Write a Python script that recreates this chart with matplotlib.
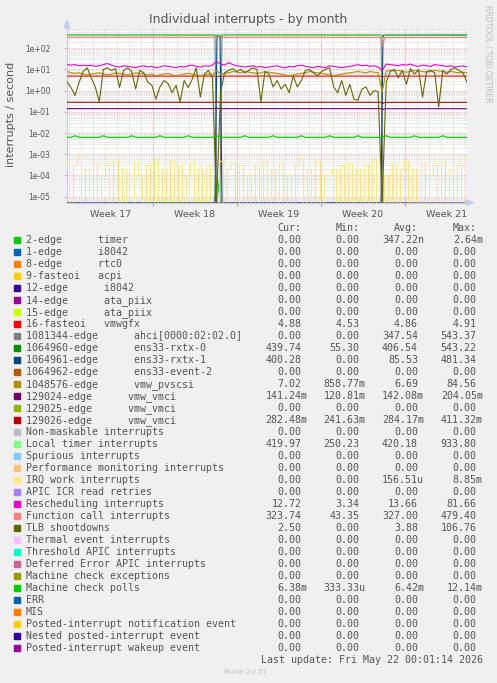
import numpy as np
import matplotlib
matplotlib.use("Agg")
import matplotlib.pyplot as plt
from matplotlib.patches import Polygon, Rectangle
from matplotlib.ticker import NullLocator

W, H, DPI = 497, 683, 100
BACK = "#F0F0F0"
FONT = "#555555"
AXIS = "#C4CCF4"
GRID = "#D4D4D4"
MGRID = "#F2A6A6"
MONO = "DejaVu Sans Mono"

Y_MIN, Y_MAX = 5.2e-6, 933.8

# x axis is hours from the left edge of the graph (2 h per pixel, 400 px)
hours = np.linspace(0, 800, 100)
# breakpoints for the flat series: start, reboot 1, reboot 2, end
event_hours = [0, 296, 300, 306, 310, 628, 632, 636, 800]
day_lines = np.arange(4, 800, 24)
week_starts = [172, 340, 508, 676]
week_mid = [88, 256, 424, 592, 760]
week_labels = ["Week 17", "Week 18", "Week 19", "Week 20", "Week 21"]

# ---- series values (interrupts / second) ----
tlb = [2.6, 1.4, 0.6, 2.5, 8, 12, 4, 1.5, 0.3, 10,
       12, 9, 11, 1.4, 9, 12, 8, 1.2, 9, 7,
       2.5, 1.8, 0.4, 1.5, 3, 2.2, 0.8, 1.8, 0.3, 3,
       1.4, 3.5, 12, 0.5, 6, 9, 4, 0, 0.8, 7,
       9, 11, 8, 10, 7, 9, 12, 10, 0.3, 8,
       6, 1.5, 3, 1.2, 2, 0.8, 5, 1.5, 3, 9,
       10, 7, 5, 8, 10, 12, 1.5, 0.8, 3, 0.6,
       2, 0.4, 0.35, 1.2, 1.5, 0.6, 1, 0.9, 0, 2.5,
       8, 10, 4, 9, 2, 11, 6, 10, 0.5, 8,
       9, 7, 0.17, 9, 6, 10, 12, 9, 7, 2.5]

resched = [17, 16, 17, 15, 16, 15, 16, 14, 15, 17,
           19, 16, 14, 13, 15, 14, 13, 12, 14, 15,
           13, 14, 12, 13, 15, 14, 13, 12, 14, 13,
           15, 16, 14, 13, 15, 14, 16, 24, 18, 16,
           21, 17, 15, 14, 13, 14, 15, 13, 14, 12,
           13, 14, 15, 13, 12, 14, 13, 15, 16, 14,
           13, 12, 14, 13, 12, 15, 14, 13, 12, 13,
           14, 15, 17, 15, 16, 14, 15, 13, 9, 18,
           17, 16, 15, 17, 16, 18, 15, 14, 16, 15,
           14, 17, 16, 15, 14, 15, 13, 14, 15, 13]

pvscsi = [8, 7, 6.5, 7, 6, 5.5, 6, 6.5, 7, 6,
          5.5, 6, 7, 6.5, 6, 5.5, 6, 7, 6.5, 6,
          5.5, 6, 5, 5.5, 6, 6.5, 5.5, 5, 5.5, 6,
          6.5, 6, 5.5, 5, 5.5, 6, 5.5, 9, 6, 6.5,
          7, 8, 7.5, 7, 8, 7.5, 7, 6.5, 7, 8,
          7.5, 7, 6.5, 6, 5.5, 5, 5.5, 6, 6.5, 7,
          8, 7.5, 7, 6.5, 6, 5.5, 5, 5.5, 6, 6.5,
          7, 7.5, 8, 7.5, 7, 8, 7.5, 7, 0.86, 8,
          9, 8.5, 9, 8, 7.5, 8, 9, 8.5, 8, 7.5,
          8, 9, 8.5, 8, 7.5, 8, 7.5, 7, 7.5, 7]

irq_work = [5e-4, 0, 3e-4, 8e-4, 0, 2e-4, 0, 4e-4, 0, 1e-4,
            3e-4, 0, 5e-4, 0, 2e-4, 0, 0, 4e-4, 1e-4, 0,
            3e-4, 0, 6e-4, 0, 2e-4, 0, 5e-4, 0, 3e-4, 0,
            1e-4, 4e-4, 0, 2e-4, 0, 3e-4, 0, 0, 5e-4, 0,
            2e-4, 4e-4, 0, 3e-4, 0, 1e-4, 0, 3e-4, 0, 5e-4,
            0, 2e-4, 0, 4e-4, 0, 1e-4, 0, 3e-4, 7e-4, 0,
            2e-4, 0, 5e-4, 0, 1e-4, 1e-4, 2e-4, 0, 3e-4, 0,
            4e-4, 0, 2e-4, 0, 3e-4, 0, 6e-4, 0, 0, 1e-4,
            0, 3e-4, 0, 2e-4, 5e-4, 0, 2e-4, 0, 4e-4, 0,
            1e-4, 3e-4, 0, 5e-4, 0, 2e-4, 0, 3e-4, 0, 6e-4]

mc_polls = [.0063, .0063, .0075, .0063, .0063, .0063, .0063, .0063, .0063, .0075,
            .0063, .0063, .0063, .0063, .0063, .0063, .0075, .0063, .0063, .0063,
            .0063, .0063, .0063, .0075, .0063, .0063, .0063, .0063, .0063, .0063,
            .0075, .0063, .0063, .0063, .0063, .0063, .0063, .0075, .0063, .0063,
            .0063, .0063, .0063, .0063, .0075, .0063, .0063, .0063, .0063, .0063,
            .0063, .0075, .0063, .0063, .0063, .0063, .0063, .0063, .0075, .0063,
            .0063, .0063, .0063, .0063, .0063, .0075, .0063, .0063, .0063, .0063,
            .0063, .0063, .0075, .0063, .0063, .0063, .0063, .0063, .0063, .0075,
            .0063, .0063, .0063, .0063, .0063, .0063, .0075, .0063, .0063, .0063,
            .0063, .0063, .0063, .0075, .0063, .0063, .0063, .0063, .0063, .0063]

# flat series on event_hours
timer = [0, 0, 1.4e-4, 0, 0, 0, 0, 0, 0]
vmwgfx = [4.87, 4.86, 4.6, 4.86, 4.87, 4.86, 4.53, 4.86, 4.88]
ahci = [432, 430, 0, 0, 436, 431, 0, 0, 0]
rxtx0 = [425, 410, 380, 300, 420, 405, 300, 430, 440]
rxtx1 = [0, 0, 420, 420, 0, 0, 410, 405, 400]
vmci0 = [0.142, 0.142, 0.15, 0.14, 0.142, 0.142, 0.13, 0.141, 0.141]
vmci2 = [0.284, 0.284, 0.3, 0.28, 0.284, 0.284, 0.25, 0.282, 0.282]
local_timer = [425, 420, 430, 420, 420, 418, 250, 420, 420]
func_call = [330, 327, 340, 320, 328, 326, 150, 320, 324]
zero = [0, 0, 0, 0, 0, 0, 0, 0, 0]

# ---- legend ----
names = [
    "2-edge      timer", "1-edge      i8042", "8-edge      rtc0", "9-fasteoi   acpi",
    "12-edge      i8042", "14-edge      ata_piix", "15-edge      ata_piix",
    "16-fasteoi   vmwgfx", "1081344-edge      ahci[0000:02:02.0]",
    "1064960-edge      ens33-rxtx-0", "1064961-edge      ens33-rxtx-1",
    "1064962-edge      ens33-event-2", "1048576-edge      vmw_pvscsi",
    "129024-edge      vmw_vmci", "129025-edge      vmw_vmci", "129026-edge      vmw_vmci",
    "Non-maskable interrupts", "Local timer interrupts", "Spurious interrupts",
    "Performance monitoring interrupts", "IRQ work interrupts", "APIC ICR read retries",
    "Rescheduling interrupts", "Function call interrupts", "TLB shootdowns",
    "Thermal event interrupts", "Threshold APIC interrupts",
    "Deferred Error APIC interrupts", "Machine check exceptions", "Machine check polls",
    "ERR", "MIS", "Posted-interrupt notification event", "Nested posted-interrupt event",
    "Posted-interrupt wakeup event",
]
colors = [
    "#00CC00", "#0066B3", "#FF8000", "#FFCC00", "#330099", "#990099", "#CCFF00",
    "#FF0000", "#808080", "#008F00", "#00487D", "#B35A00", "#B38F00", "#6B006B",
    "#8FB300", "#B30000", "#BEBEBE", "#80FF80", "#80C9FF", "#FFC080", "#FFE680",
    "#AA80FF", "#EE00CC", "#FF8080", "#666600", "#FFBFFF", "#00FFCC", "#CC6699",
    "#999900", "#00CC00", "#0066B3", "#FF8000", "#FFCC00", "#330099", "#990099",
]
cur = ["0.00", "0.00", "0.00", "0.00", "0.00", "0.00", "0.00", "4.88", "0.00",
       "439.74", "400.28", "0.00", "7.02", "141.24m", "0.00", "282.48m", "0.00",
       "419.97", "0.00", "0.00", "0.00", "0.00", "12.72", "323.74", "2.50", "0.00",
       "0.00", "0.00", "0.00", "6.38m", "0.00", "0.00", "0.00", "0.00", "0.00"]
mins = ["0.00", "0.00", "0.00", "0.00", "0.00", "0.00", "0.00", "4.53", "0.00",
        "55.30", "0.00", "0.00", "858.77m", "120.81m", "0.00", "241.63m", "0.00",
        "250.23", "0.00", "0.00", "0.00", "0.00", "3.34", "43.35", "0.00", "0.00",
        "0.00", "0.00", "0.00", "333.33u", "0.00", "0.00", "0.00", "0.00", "0.00"]
avgs = ["347.22n", "0.00", "0.00", "0.00", "0.00", "0.00", "0.00", "4.86", "347.54",
        "406.54", "85.53", "0.00", "6.69", "142.08m", "0.00", "284.17m", "0.00",
        "420.18", "0.00", "0.00", "156.51u", "0.00", "13.66", "327.00", "3.88", "0.00",
        "0.00", "0.00", "0.00", "6.42m", "0.00", "0.00", "0.00", "0.00", "0.00"]
maxs = ["2.64m", "0.00", "0.00", "0.00", "0.00", "0.00", "0.00", "4.91", "543.37",
        "543.22", "481.34", "0.00", "84.56", "204.05m", "0.00", "411.32m", "0.00",
        "933.80", "0.00", "0.00", "8.85m", "0.00", "81.66", "479.40", "106.76", "0.00",
        "0.00", "0.00", "0.00", "12.14m", "0.00", "0.00", "0.00", "0.00", "0.00"]

# data for each legend row, in drawing order
series = [
    (event_hours, timer), (event_hours, zero), (event_hours, zero), (event_hours, zero),
    (event_hours, zero), (event_hours, zero), (event_hours, zero), (event_hours, vmwgfx),
    (event_hours, ahci), (event_hours, rxtx0), (event_hours, rxtx1), (event_hours, zero),
    (hours, pvscsi), (event_hours, vmci0), (event_hours, zero), (event_hours, vmci2),
    (event_hours, zero), (event_hours, local_timer), (event_hours, zero),
    (event_hours, zero), (hours, irq_work), (event_hours, zero), (hours, resched),
    (event_hours, func_call), (hours, tlb), (event_hours, zero), (event_hours, zero),
    (event_hours, zero), (event_hours, zero), (hours, mc_polls), (event_hours, zero),
    (event_hours, zero), (event_hours, zero), (event_hours, zero), (event_hours, zero),
]
# rows drawn as steps (on/off counters look like vertical bars)
stepped = {"IRQ work interrupts"}


def fx(x):
    return x / W


def fy(y):
    return 1 - y / H


fig = plt.figure(figsize=(W / DPI, H / DPI), dpi=DPI, facecolor=BACK)
top, bottom = 27.7, 202.7
ax = fig.add_axes([fx(67), fy(bottom), 400 / W, (bottom - top) / H])
ax.set_facecolor("white")
ax.set_yscale("log")
ax.set_xlim(0, 800)
ax.set_ylim(Y_MIN, Y_MAX)

# grid
for h in day_lines:
    ax.axvline(h, color=GRID, lw=0.6, ls=(0, (1, 1)), zorder=1)
for e in range(-6, 3):
    for k in range(2, 10):
        ax.axhline(k * 10.0 ** e, color=GRID, lw=0.6, ls=(0, (1, 1)), zorder=1)
for h in week_starts:
    ax.axvline(h, color=MGRID, lw=0.6, ls=(0, (1, 1)), zorder=1)
decades = [10.0 ** e for e in range(-5, 3)]
for d in decades:
    ax.axhline(d, color=MGRID, lw=0.6, ls=(0, (1, 1)), zorder=1)

for (t, v), c, name in zip(series, colors, names):
    ds = "steps-mid" if name in stepped else "default"
    ax.plot(t, np.clip(np.asarray(v, dtype=float), Y_MIN, None), color=c, lw=0.8,
            drawstyle=ds, zorder=3)

# axes / ticks
for s in ["top", "right"]:
    ax.spines[s].set_visible(False)
for s in ["left", "bottom"]:
    ax.spines[s].set_color(AXIS)
    ax.spines[s].set_linewidth(0.8)
ax.set_yticks(decades)
ax.set_yticklabels(["1e%+03d" % e for e in range(-5, 3)])
ax.yaxis.set_minor_locator(NullLocator())
ax.tick_params(axis="y", length=2, color=MGRID, pad=10, labelsize=5.5, labelcolor=FONT)
ax.set_xticks(week_starts)
ax.set_xticklabels([""] * len(week_starts))
ax.set_xticks(week_mid, minor=True)
ax.set_xticklabels(week_labels, minor=True)
ax.tick_params(axis="x", which="major", length=2.5, color="#A0A0A0")
ax.tick_params(axis="x", which="minor", length=0, pad=5, labelsize=6.8, labelcolor=FONT)

# arrows at the ends of the axes
fig.add_artist(Polygon([(fx(67), fy(20.5)), (fx(64.3), fy(28)), (fx(69.7), fy(28))],
                       closed=True, color=AXIS, transform=fig.transFigure))
fig.add_artist(Polygon([(fx(473.5), fy(bottom)), (fx(466.5), fy(bottom - 2.7)),
                        (fx(466.5), fy(bottom + 2.7))],
                       closed=True, color=AXIS, transform=fig.transFigure))

# texts
fig.text(fx(248), fy(22.5), "Individual interrupts - by month", ha="center", va="baseline",
         fontsize=9, color=FONT)
fig.text(fx(11.5), fy(114.5), "interrupts / second", rotation=90, ha="center", va="center",
         fontsize=8, color=FONT)
fig.text(fx(488), fy(54), "RRDTOOL / TOBI OETIKER", rotation=270, ha="center", va="center",
         fontsize=5.5, color="#BBBBBB")

col_right = [301.3, 359.3, 417.9, 476.8]
for xr, head in zip(col_right, ["Cur:", "Min:", "Avg:", "Max:"]):
    fig.text(fx(xr), fy(231), head, ha="right", va="baseline", family=MONO,
             fontsize=7.2, color=FONT)

for i, name in enumerate(names):
    yb = 243 + 12 * i
    fig.add_artist(Rectangle((fx(14), fy(yb)), 6 / W, 6 / H, color=colors[i],
                             transform=fig.transFigure))
    fig.text(fx(26), fy(yb), name, ha="left", va="baseline", family=MONO,
             fontsize=7.2, color=FONT)
    for xr, val in zip(col_right, (cur[i], mins[i], avgs[i], maxs[i])):
        shift = 6 if val[-1].isalpha() else 0
        fig.text(fx(xr + shift), fy(yb), val, ha="right", va="baseline", family=MONO,
                 fontsize=7.2, color=FONT)

fig.text(fx(482.7), fy(663), "Last update: Fri May 22 00:01:14 2026", ha="right",
         va="baseline", family=MONO, fontsize=7.2, color=FONT)
fig.text(fx(245.5), fy(674), "Munin 2.0.57", ha="center", va="baseline",
         fontsize=4.7, color="#BBBBBB")

fig.savefig("out.png", dpi=DPI, facecolor=BACK)
